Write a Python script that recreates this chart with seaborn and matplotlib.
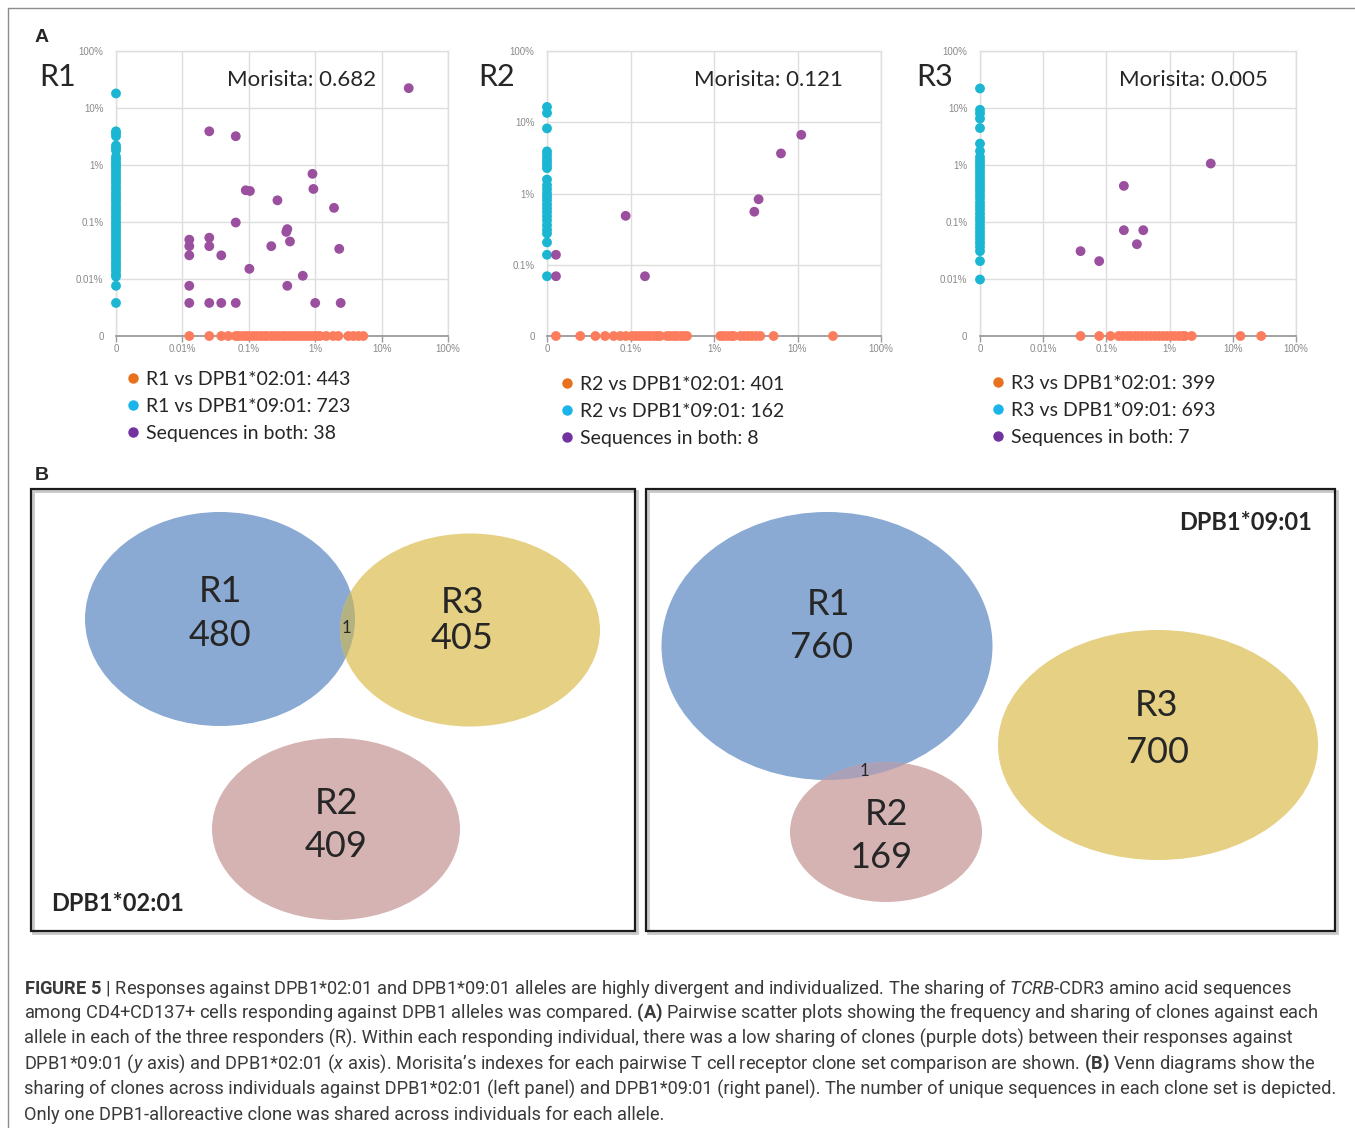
import numpy as np
import pandas as pd
import seaborn as sns
import matplotlib
matplotlib.use("Agg")
import matplotlib.pyplot as plt
from matplotlib.patches import Ellipse, Rectangle
from matplotlib.lines import Line2D
from matplotlib.ticker import NullLocator, FixedLocator, FixedFormatter
from matplotlib import font_manager as fm

# ---------------------------------------------------------------- data
# Panel A: clone frequencies in % (0 = clone absent from that response)
r1_only_0201_x = [0.0127, 0.0254, 0.0385, 0.049, 0.0636, 0.07, 0.08, 0.09, 0.1, 0.115, 0.13,
                  0.15, 0.17, 0.19, 0.22, 0.25, 0.28, 0.32, 0.36, 0.41, 0.47, 0.53, 0.6, 0.68,
                  0.77, 0.87, 0.98, 1.1, 1.18, 1.46, 1.87, 2.23, 3.15, 3.75, 4.47, 5.3]
r1_only_0901_y = [18, 3.9, 3.6, 3.2, 2.2, 2.0, 1.8, 1.4, 1.25, 1.1, 1.0, 0.9, 0.8, 0.7, 0.62,
                  0.55, 0.48, 0.42, 0.37, 0.32, 0.28, 0.25, 0.22, 0.19, 0.17, 0.15, 0.13, 0.115,
                  0.1, 0.09, 0.08, 0.07, 0.062, 0.055, 0.048, 0.042, 0.037, 0.033, 0.029, 0.026,
                  0.023, 0.02, 0.018, 0.016, 0.014, 0.012, 0.011, 0.0076, 0.0038]
r1_both_x = [25.6, 0.0254, 0.0636, 0.91, 0.94, 0.090, 0.104, 0.27, 1.92, 0.0636, 0.38, 0.367,
             0.417, 0.0127, 0.0127, 0.0127, 0.0254, 0.0254, 0.0385, 0.218, 2.3, 0.102, 0.65,
             0.0127, 0.38, 0.0127, 0.0254, 0.0385, 0.0636, 1.0, 2.42]
r1_both_y = [22.3, 3.9, 3.2, 0.70, 0.38, 0.36, 0.35, 0.24, 0.177, 0.098, 0.075, 0.067, 0.0455,
             0.049, 0.0377, 0.026, 0.053, 0.0377, 0.026, 0.0377, 0.0338, 0.0151, 0.0114,
             0.0076, 0.0076, 0.0038, 0.0038, 0.0038, 0.0038, 0.0038, 0.0038]

r2_only_0201_x = [0.0128, 0.025, 0.038, 0.0496, 0.0628, 0.0755, 0.088, 0.104, 0.115, 0.127,
                  0.14, 0.155, 0.17, 0.19, 0.21, 0.227, 0.274, 0.3, 0.33, 0.36, 0.4, 0.44,
                  0.475, 1.19, 1.3, 1.45, 1.6, 1.72, 2.07, 2.3, 2.55, 2.85, 3.2, 3.58, 5.17, 26.6]
r2_only_0901_y = [16.4, 13.5, 8.2, 3.9, 3.5, 3.1, 2.8, 2.5, 2.27, 1.57, 1.31, 1.15, 1.0, 0.9,
                  0.8, 0.7, 0.62, 0.55, 0.48, 0.42, 0.36, 0.31, 0.275, 0.206, 0.138, 0.069]
r2_both_x = [11.1, 6.34, 3.42, 3.04, 0.0875, 0.0128, 0.0128, 0.149]
r2_both_y = [6.66, 3.65, 0.83, 0.555, 0.486, 0.138, 0.069, 0.069]

r3_only_0201_x = [0.039, 0.077, 0.116, 0.156, 0.18, 0.21, 0.24, 0.28, 0.32, 0.37, 0.43, 0.5,
                  0.58, 0.67, 0.78, 0.9, 1.04, 1.2, 1.4, 1.6, 1.75, 2.24, 13.2, 28.1]
r3_only_0901_y = [22, 9.3, 8.0, 6.5, 4.45, 2.37, 1.76, 1.38, 1.2, 1.05, 0.92, 0.8, 0.7, 0.61,
                  0.53, 0.46, 0.4, 0.35, 0.3, 0.26, 0.22, 0.19, 0.165, 0.14, 0.12, 0.105, 0.09,
                  0.078, 0.067, 0.058, 0.05, 0.043, 0.0366, 0.0308, 0.0206, 0.0098]
r3_both_x = [4.48, 0.189, 0.189, 0.383, 0.304, 0.039, 0.0769]
r3_both_y = [1.06, 0.43, 0.0718, 0.0718, 0.0408, 0.0308, 0.0206]

responders = ["R1", "R2", "R3"]
morisita = [0.682, 0.121, 0.005]
n_0201 = [443, 401, 399]
n_0901 = [723, 162, 693]
n_both = [38, 8, 7]

# Panel B: Venn counts
venn_0201_sets = ["R1", "R3", "R2"]
venn_0201_counts = [480, 405, 409]
venn_0201_shared = 1
venn_0901_sets = ["R1", "R2", "R3"]
venn_0901_counts = [760, 169, 700]
venn_0901_shared = 1

caption_lines = [
    r"$\mathbf{FIGURE\ 5}$ | Responses against DPB1*02:01 and DPB1*09:01 alleles are highly divergent and individualized. The sharing of $\mathit{TCRB}$-CDR3 amino acid sequences",
    r"among CD4+CD137+ cells responding against DPB1 alleles was compared. $\mathbf{(A)}$ Pairwise scatter plots showing the frequency and sharing of clones against each",
    "allele in each of the three responders (R). Within each responding individual, there was a low sharing of clones (purple dots) between their responses against",
    r"DPB1*09:01 ($\mathit{y}$ axis) and DPB1*02:01 ($\mathit{x}$ axis). Morisita’s indexes for each pairwise T cell receptor clone set comparison are shown. $\mathbf{(B)}$ Venn diagrams show the",
    "sharing of clones across individuals against DPB1*02:01 (left panel) and DPB1*09:01 (right panel). The number of unique sequences in each clone set is depicted.",
    "Only one DPB1-alloreactive clone was shared across individuals for each allele.",
]

# ---------------------------------------------------------------- style
sns.set_theme(style="white")


def pick(*names):
    for n in names:
        try:
            fm.findfont(fm.FontProperties(family=n), fallback_to_default=False)
            return n
        except Exception:
            pass
    return "DejaVu Sans"


LABEL_FONT = pick("Lato", "Open Sans")
CAP_FONT = pick("Liberation Sans Narrow", "Roboto", "Liberation Sans")
AX_FONT = pick("Liberation Sans", "DejaVu Sans")
plt.rcParams["font.family"] = [LABEL_FONT, "DejaVu Sans"]
plt.rcParams["mathtext.fontset"] = "custom"
plt.rcParams["mathtext.rm"] = CAP_FONT
plt.rcParams["mathtext.it"] = CAP_FONT + ":italic"
plt.rcParams["mathtext.bf"] = CAP_FONT + ":bold"

W, H = 1355, 1128
fig = plt.figure(figsize=(W / 100, H / 100), dpi=100)
fig.patch.set_facecolor("white")


def px_axes(x0, y0, x1, y1):
    return fig.add_axes([x0 / W, 1 - y1 / H, (x1 - x0) / W, (y1 - y0) / H])


def fx(x):
    return x / W


def fy(y):
    return 1 - y / H


PAL = {"a": "#fb7d5d", "b": "#1bb6d1", "both": "#9a4f9f"}
LEG_COLORS = ["#e8711e", "#1ab4ea", "#7232a0"]

panels = [
    dict(rect=(116, 51, 448, 336), floor=0.001, a=r1_only_0201_x, b=r1_only_0901_y,
         bx=r1_both_x, by=r1_both_y, name_x=39, mor_x=302, leg=(126, 371)),
    dict(rect=(547, 51, 881, 336), floor=0.01, a=r2_only_0201_x, b=r2_only_0901_y,
         bx=r2_both_x, by=r2_both_y, name_x=478, mor_x=768, leg=(560, 376)),
    dict(rect=(980, 51, 1296, 336), floor=0.001, a=r3_only_0201_x, b=r3_only_0901_y,
         bx=r3_both_x, by=r3_both_y, name_x=916, mor_x=1193, leg=(991, 375)),
]


def pct_label(v):
    return f"{v:g}%"


for i, p in enumerate(panels):
    ax = px_axes(*p["rect"])
    df = pd.concat([
        pd.DataFrame({"x": p["a"], "y": 0.0, "set": "a"}),
        pd.DataFrame({"x": 0.0, "y": p["b"], "set": "b"}),
        pd.DataFrame({"x": p["bx"], "y": p["by"], "set": "both"}),
    ], ignore_index=True)
    fl = p["floor"]
    df["xp"] = df["x"].where(df["x"] > 0, fl)
    df["yp"] = df["y"].where(df["y"] > 0, fl)
    ax.set_xscale("log")
    ax.set_yscale("log")
    sns.scatterplot(data=df, x="xp", y="yp", hue="set", hue_order=["a", "b", "both"],
                    palette=PAL, s=50, edgecolor="none", linewidth=0, legend=False,
                    ax=ax, clip_on=False, zorder=3)
    ax.set_xlim(fl, 100)
    ax.set_ylim(fl, 100)
    ticks = [fl]
    v = fl * 10
    while v <= 100.0001:
        ticks.append(v)
        v *= 10
    labels = ["0"] + [pct_label(t) for t in ticks[1:]]
    for axis in (ax.xaxis, ax.yaxis):
        axis.set_major_locator(FixedLocator(ticks))
        axis.set_major_formatter(FixedFormatter(labels))
        axis.set_minor_locator(NullLocator())
    ax.set_xlabel("")
    ax.set_ylabel("")
    ax.grid(True, which="major", color="#dedede", lw=1)
    ax.set_axisbelow(True)
    for s in ["top", "right", "left"]:
        ax.spines[s].set_color("#dedede")
        ax.spines[s].set_linewidth(1)
    ax.spines["bottom"].set_color("#9a9a9a")
    ax.spines["bottom"].set_linewidth(1.3)
    ax.tick_params(axis="x", length=4, width=1, color="#9a9a9a", labelsize=7,
                   labelcolor="#8a8a8a", pad=1.5, bottom=True)
    ax.tick_params(axis="y", length=0, labelsize=7, labelcolor="#8a8a8a", pad=9, left=True)
    for lab in ax.get_xticklabels() + ax.get_yticklabels():
        lab.set_family(AX_FONT)

    name = responders[i]
    fig.text(fx(p["name_x"]), fy(77), name, fontsize=22, ha="left", va="center")
    fig.text(fx(p["mor_x"]), fy(80), f"Morisita: {morisita[i]:.3f}", fontsize=16,
             ha="center", va="center")

    handles = [Line2D([], [], ls="none", marker="o", ms=7.5, mfc=c, mec="none")
               for c in LEG_COLORS]
    labs = [f"{name} vs DPB1*02:01: {n_0201[i]}",
            f"{name} vs DPB1*09:01: {n_0901[i]}",
            f"Sequences in both: {n_both[i]}"]
    fig.legend(handles, labs, loc="upper left", bbox_to_anchor=(fx(p["leg"][0]), fy(p["leg"][1])),
               bbox_transform=fig.transFigure, frameon=False, fontsize=14,
               handlelength=0.7, handletextpad=0.35, labelspacing=0.51,
               borderpad=0, borderaxespad=0)

# panel letters
fig.text(fx(35), fy(38), "A", fontsize=14, fontweight="bold", family=AX_FONT, va="center")
fig.text(fx(35), fy(475), "B", fontsize=14, fontweight="bold", family=AX_FONT, va="center")

# ---------------------------------------------------------------- Venn panels
VCOL = {"R1": "#8aaad3", "R2": "#d5b3b3", "R3": "#e5d083"}

venn_layout_0201 = {
    "box": (31, 489, 635, 931),
    "R1": dict(c=(220, 619), w=270, h=214, name=(220, 591), count=(220, 635)),
    "R3": dict(c=(470, 630), w=260, h=193, name=(462, 602), count=(462, 638)),
    "R2": dict(c=(336, 829), w=248, h=182, name=(336, 803), count=(336, 846)),
    "overlap": ("R1", "R3", "#b5b281"),
    "shared_xy": (346, 628),
    "title": ("DPB1*02:01", (51, 903), "left"),
}
venn_layout_0901 = {
    "box": (646, 489, 1335, 931),
    "R1": dict(c=(827, 646), w=331, h=268, name=(828, 604), count=(822, 647)),
    "R2": dict(c=(886, 832), w=192, h=140, name=(886, 814), count=(881, 857)),
    "R3": dict(c=(1158, 745), w=320, h=230, name=(1157, 705), count=(1157, 752)),
    "overlap": ("R1", "R2", "#aaa1b8"),
    "shared_xy": (864, 771),
    "title": ("DPB1*09:01", (1312, 522), "right"),
}


def venn(layout, sets, counts, shared):
    x0, y0, x1, y1 = layout["box"]
    ax = px_axes(x0, y0, x1, y1)
    ax.set_xlim(x0, x1)
    ax.set_ylim(y1, y0)
    ax.set_axis_off()
    ax.add_patch(Rectangle((x0 + 2, y0 + 2), x1 - x0, y1 - y0, fill=False,
                           ec="#c8c8c8", lw=2, clip_on=False))
    ax.add_patch(Rectangle((x0, y0), x1 - x0, y1 - y0, fill=False, ec="#1a1a1a",
                           lw=1.6, clip_on=False))
    patches = {}
    for s, n in zip(sets, counts):
        L = layout[s]
        e = Ellipse(L["c"], L["w"], L["h"], fc=VCOL[s], ec="none", zorder=2)
        ax.add_patch(e)
        patches[s] = e
        ax.text(*L["name"], s, fontsize=26, ha="center", va="center", zorder=5)
        ax.text(*L["count"], f"{n}", fontsize=26, ha="center", va="center", zorder=5)
    a, b, col = layout["overlap"]
    La = layout[a]
    ov = Ellipse(La["c"], La["w"], La["h"], fc=col, ec="none", zorder=3)
    ax.add_patch(ov)
    ov.set_clip_path(patches[b])
    ax.text(*layout["shared_xy"], f"{shared}", fontsize=12, ha="center", va="center", zorder=5)
    t, xy, ha = layout["title"]
    ax.text(*xy, t, fontsize=17, fontweight="bold", ha=ha, va="center", zorder=5)


venn(venn_layout_0201, venn_0201_sets, venn_0201_counts, venn_0201_shared)
venn(venn_layout_0901, venn_0901_sets, venn_0901_counts, venn_0901_shared)

# ---------------------------------------------------------------- caption
cap_y = [988, 1013, 1038, 1064, 1089, 1115]
cap_target_w = [1281, 1292, 1249, 1292, 1296]
renderer = fig.canvas.get_renderer()
ratios = []
for line, tw in zip(caption_lines, cap_target_w):
    probe = fig.text(fx(24), fy(988), line, fontsize=13, family=CAP_FONT)
    ratios.append(tw / probe.get_window_extent(renderer).width)
    probe.remove()
cap_size = 13 * float(np.mean(ratios))
for line, y in zip(caption_lines, cap_y):
    fig.text(fx(24), fy(y), line, fontsize=cap_size, family=CAP_FONT,
             color="#3a3a3a", ha="left", va="center")

# outer frame lines
fig.add_artist(Line2D([fx(8), 1], [fy(8), fy(8)], transform=fig.transFigure,
                      color="#8c8c8c", lw=1))
fig.add_artist(Line2D([fx(8), fx(8)], [0, fy(8)], transform=fig.transFigure,
                      color="#8c8c8c", lw=1))

fig.savefig("out.png", dpi=100, facecolor="white")
